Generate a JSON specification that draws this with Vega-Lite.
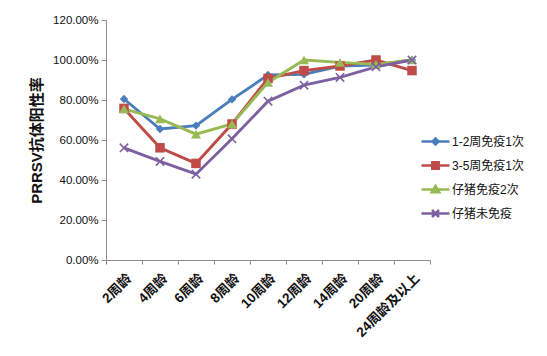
{
  "$schema": "https://vega.github.io/schema/vega-lite/v6.json",
  "width": 324,
  "height": 240,
  "autosize": {"type": "none"},
  "padding": {"left": 106, "top": 20, "right": 117, "bottom": 96},
  "background": "white",
  "config": {
    "view": {"stroke": null},
    "font": "Liberation Sans, Noto Sans CJK SC",
    "axis": {"domainColor": "#8c8c8c", "tickColor": "#8c8c8c", "grid": false, "labelColor": "#111", "titleColor": "#111"}
  },
  "data": {
    "values": [
      {"age": "2周龄", "series": "1-2周免疫1次", "v": 0.805},
      {"age": "4周龄", "series": "1-2周免疫1次", "v": 0.655},
      {"age": "6周龄", "series": "1-2周免疫1次", "v": 0.672},
      {"age": "8周龄", "series": "1-2周免疫1次", "v": 0.803},
      {"age": "10周龄", "series": "1-2周免疫1次", "v": 0.925},
      {"age": "12周龄", "series": "1-2周免疫1次", "v": 0.928},
      {"age": "14周龄", "series": "1-2周免疫1次", "v": 0.97},
      {"age": "20周龄", "series": "1-2周免疫1次", "v": 0.975},
      {"age": "24周龄及以上", "series": "1-2周免疫1次", "v": 1.0},
      {"age": "2周龄", "series": "3-5周免疫1次", "v": 0.758},
      {"age": "4周龄", "series": "3-5周免疫1次", "v": 0.561},
      {"age": "6周龄", "series": "3-5周免疫1次", "v": 0.483},
      {"age": "8周龄", "series": "3-5周免疫1次", "v": 0.68},
      {"age": "10周龄", "series": "3-5周免疫1次", "v": 0.908},
      {"age": "12周龄", "series": "3-5周免疫1次", "v": 0.947},
      {"age": "14周龄", "series": "3-5周免疫1次", "v": 0.97},
      {"age": "20周龄", "series": "3-5周免疫1次", "v": 1.0},
      {"age": "24周龄及以上", "series": "3-5周免疫1次", "v": 0.947},
      {"age": "2周龄", "series": "仔猪免疫2次", "v": 0.756},
      {"age": "4周龄", "series": "仔猪免疫2次", "v": 0.706},
      {"age": "6周龄", "series": "仔猪免疫2次", "v": 0.629},
      {"age": "8周龄", "series": "仔猪免疫2次", "v": 0.68},
      {"age": "10周龄", "series": "仔猪免疫2次", "v": 0.888},
      {"age": "12周龄", "series": "仔猪免疫2次", "v": 1.0},
      {"age": "14周龄", "series": "仔猪免疫2次", "v": 0.988},
      {"age": "20周龄", "series": "仔猪免疫2次", "v": 0.978},
      {"age": "24周龄及以上", "series": "仔猪免疫2次", "v": 1.0},
      {"age": "2周龄", "series": "仔猪未免疫", "v": 0.561},
      {"age": "4周龄", "series": "仔猪未免疫", "v": 0.493},
      {"age": "6周龄", "series": "仔猪未免疫", "v": 0.429},
      {"age": "8周龄", "series": "仔猪未免疫", "v": 0.606},
      {"age": "10周龄", "series": "仔猪未免疫", "v": 0.794},
      {"age": "12周龄", "series": "仔猪未免疫", "v": 0.874},
      {"age": "14周龄", "series": "仔猪未免疫", "v": 0.913},
      {"age": "20周龄", "series": "仔猪未免疫", "v": 0.966},
      {"age": "24周龄及以上", "series": "仔猪未免疫", "v": 1.0}
    ]
  },
  "encoding": {
    "x": {
      "field": "age", "type": "nominal",
      "sort": ["2周龄", "4周龄", "6周龄", "8周龄", "10周龄", "12周龄", "14周龄", "20周龄", "24周龄及以上"],
      "scale": {"type": "band", "paddingInner": 0, "paddingOuter": 0},
      "axis": {"title": null, "labelAngle": -45, "labelFontSize": 13.5, "labelFontWeight": "bold", "tickBand": "extent", "tickSize": 4, "labelPadding": 7}
    },
    "y": {
      "field": "v", "type": "quantitative",
      "scale": {"domain": [0, 1.2], "nice": false},
      "axis": {"title": "PRRSV抗体阳性率", "titleFontSize": 15, "titleFontWeight": "bold", "titlePadding": 8, "format": ".2%", "values": [0, 0.2, 0.4, 0.6, 0.8, 1.0, 1.2], "labelFontSize": 11.5, "tickSize": 5, "labelPadding": 3}
    }
  },
  "layer": [
    {
      "mark": {"type": "line", "strokeWidth": 2.9},
      "encoding": {
        "color": {"field": "series", "type": "nominal", "legend": null,
          "scale": {"range": ["#4A7EBB", "#BE4B48", "#98B954", "#7D60A0"]}}
      }
    },
    {
      "transform": [{"filter": "datum.series === '1-2周免疫1次'"}],
      "mark": {"type": "point", "shape": "diamond", "filled": true, "size": 70, "color": "#4A7EBB", "opacity": 1}
    },
    {
      "transform": [{"filter": "datum.series === '3-5周免疫1次'"}],
      "mark": {"type": "point", "shape": "square", "filled": true, "size": 90, "color": "#BE4B48", "opacity": 1}
    },
    {
      "transform": [{"filter": "datum.series === '仔猪免疫2次'"}],
      "mark": {"type": "point", "shape": "triangle-up", "filled": true, "size": 100, "color": "#98B954", "opacity": 1}
    },
    {
      "transform": [{"filter": "datum.series === '仔猪未免疫'"}],
      "mark": {"type": "point", "shape": "M-1,-1L1,1M1,-1L-1,1", "filled": false, "size": 70, "strokeWidth": 1.6, "color": "#7D60A0", "opacity": 1}
    },
    {
      "mark": {"type": "point", "filled": true, "strokeWidth": 2.5, "size": 400, "opacity": 0},
      "encoding": {
        "fill": {"field": "series", "type": "nominal",
          "scale": {"range": ["#4A7EBB", "#BE4B48", "#98B954", "#7D60A0"]}},
        "stroke": {"field": "series", "type": "nominal",
          "scale": {"range": ["#4A7EBB", "#BE4B48", "#98B954", "#7D60A0"]}},
        "shape": {"field": "series", "type": "nominal",
          "scale": {"range": ["M-1.4,0H1.4M0,-0.3L0.3,0L0,0.3L-0.3,0Z", "M-1.4,0H1.4M-0.32,-0.32H0.32V0.32H-0.32Z", "M-1.4,0H1.4M0,-0.36L0.38,0.28H-0.38Z", "M-1.4,0H1.4M-0.35,-0.35L0.35,0.35M0.35,-0.35L-0.35,0.35"]},
          "legend": {"title": null, "orient": "none", "legendX": 318, "legendY": 110, "symbolSize": 400, "symbolOpacity": 1, "symbolStrokeWidth": 2.5, "labelFontSize": 12, "labelColor": "#111", "labelOffset": 5, "rowPadding": 4}}
      }
    }
  ]
}
